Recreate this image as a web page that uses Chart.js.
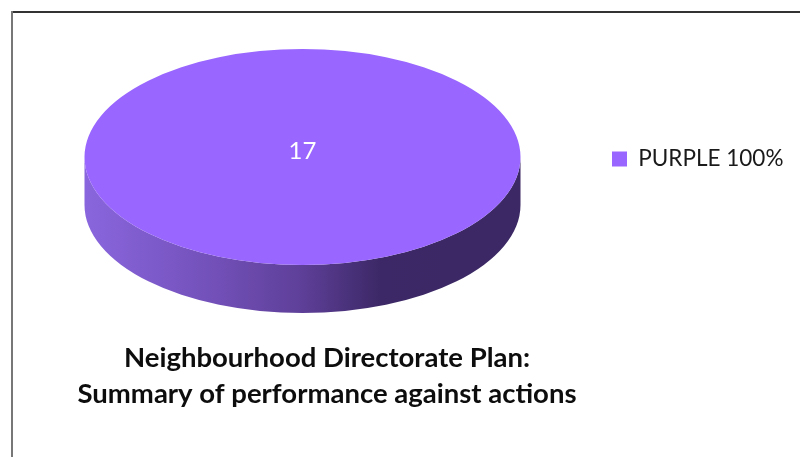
<!DOCTYPE html>
<html lang="en">

<head>
    <meta charset="UTF-8">
    <title>Neighbourhood Directorate Plan</title>
    <script src="https://cdn.jsdelivr.net/npm/chart.js@4/dist/chart.umd.min.js"></script>
    <style>
        body { margin: 0; background: #fff; overflow: hidden; }
    </style>
</head>

<body>

    <canvas id="myChart" width="800" height="457"></canvas>
    <script>

        const categories = ['PURPLE 100%'];
        const actionCounts = [17];
        const sliceColours = ['#9966ff'];
        const titleLines = ['Neighbourhood Directorate Plan:', 'Summary of performance against actions'];

        // Excel style 3D pie: Chart.js only does flat circles, so squash the arc and add a wall under it
        const pie = { x: 302.5, y: 157, rx: 218, ry: 108, depth: 48 };

        const pie3d = {
            id: 'pie3d',
            beforeDraw(chart) {
                // frame of the pasted chart, only top and left show
                let ctx = chart.ctx;
                ctx.fillStyle = '#333333';
                ctx.fillRect(11, 11, 789, 2);
                ctx.fillStyle = '#777777';
                ctx.fillRect(11, 11, 2, 446);
            },
            afterLayout(chart) {
                // legend and title sit where the reference has them, not where the box layout wants
                let legend = chart.legend;
                legend.left = 602;
                legend.right = 602 + legend.width;
                legend.top = 141;
                legend.bottom = 141 + 36;

                let title = chart.titleBlock;
                title.left = 27;
                title.right = 627;
                title.top = 340;
                title.bottom = 340 + title.height;
            },
            beforeDatasetsDraw(chart) {
                let ctx = chart.ctx;
                let arc = chart.getDatasetMeta(0).data[0];

                let wall = ctx.createLinearGradient(pie.x - pie.rx, 0, pie.x + pie.rx, 0);
                wall.addColorStop(0, '#8a66de');
                wall.addColorStop(0.3, '#7250b8');
                wall.addColorStop(0.5, '#5e3f98');
                wall.addColorStop(0.68, '#3c2866');
                wall.addColorStop(1, '#3b2864');

                ctx.save();
                ctx.beginPath();
                ctx.ellipse(pie.x, pie.y, pie.rx, pie.ry, 0, Math.PI, 0, true);
                ctx.lineTo(pie.x + pie.rx, pie.y + pie.depth);
                ctx.ellipse(pie.x, pie.y + pie.depth, pie.rx, pie.ry, 0, 0, Math.PI);
                ctx.closePath();
                ctx.fillStyle = wall;
                ctx.fill();
                ctx.restore();

                ctx.save();
                ctx.translate(pie.x, pie.y);
                ctx.scale(pie.rx / arc.outerRadius, pie.ry / arc.outerRadius);
                ctx.translate(-arc.x, -arc.y);
            },
            afterDatasetsDraw(chart) {
                let ctx = chart.ctx;
                ctx.restore();

                ctx.save();
                ctx.fillStyle = '#ffffff';
                ctx.font = '24px Lato';
                ctx.textAlign = 'center';
                ctx.textBaseline = 'middle';
                ctx.fillText(String(chart.data.datasets[0].data[0]), pie.x, pie.y - 6);
                ctx.restore();
            }
        };

        let ctx = document.getElementById('myChart').getContext('2d');
        let myChart = new Chart(ctx, {
            type: 'pie',
            data: {
                labels: categories,
                datasets: [{
                    data: actionCounts,
                    backgroundColor: sliceColours,
                    borderWidth: 0,
                    clip: false
                }]
            },
            options: {
                responsive: false,
                animation: false,
                plugins: {
                    tooltip: { enabled: false },
                    legend: {
                        position: 'right',
                        labels: {
                            color: '#1a1a1a',
                            boxWidth: 15,
                            boxHeight: 15,
                            font: { family: 'Lato', size: 22.5 }
                        }
                    },
                    title: {
                        display: true,
                        position: 'bottom',
                        text: titleLines,
                        color: '#0d0d0d',
                        font: { family: 'Lato', size: 27.5, weight: 'bold', lineHeight: 1.31 },
                        padding: 0
                    }
                }
            },
            plugins: [pie3d]
        });

    </script>

</body>

</html>
